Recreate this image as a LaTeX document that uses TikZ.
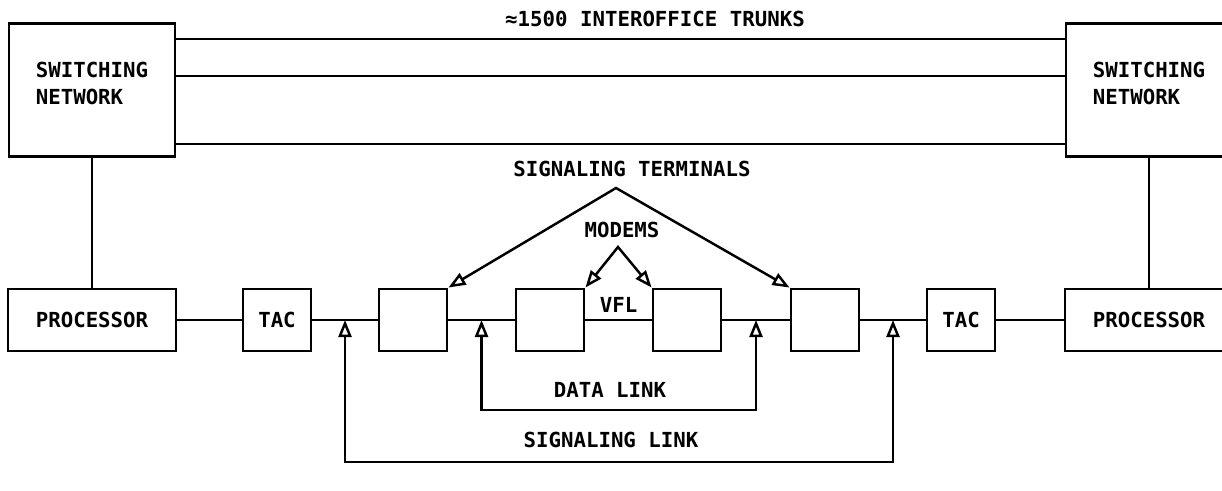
\documentclass[tikz,border=0pt]{standalone}
\usepackage{fontspec}
\setmonofont{DejaVu Sans Mono}
\usetikzlibrary{arrows.meta, positioning, calc}

\begin{document}
\begin{tikzpicture}[
    x=0.02cm, y=-0.02cm,
    font=\ttfamily\bfseries\fontsize{11.8}{15.4}\selectfont,
    network/.style={draw, line width=1.4pt, minimum width=3.32cm, minimum height=2.66cm, inner sep=0pt, align=left},
    unit/.style={draw, line width=1.4pt, minimum width=1.37cm, minimum height=1.25cm, inner sep=0pt},
    wire/.style={line width=1.4pt},
    link/.style={line width=1.4pt, {Triangle[open, length=0.34cm, width=0.26cm]}-{Triangle[open, length=0.34cm, width=0.26cm]}}
]
    \useasboundingbox (0,0) rectangle (1222,490);

    % switching networks and trunks
    \node[network] (snL) at (92,90) {SWITCHING\\NETWORK\\[-7.4pt]};
    \node[network] (snR) at (1149,90) {SWITCHING\\NETWORK\\[-7.4pt]};
    \foreach \ty in {39,76,144}
        \draw[wire] (snL.east |- 0,\ty) -- (snR.west |- 0,\ty);
    \node (trunks) at (655,19) {≈1500 INTEROFFICE TRUNKS};

    % processors, TACs and terminals
    \node[unit, minimum width=3.36cm] (procL) at (92,320) {PROCESSOR};
    \node[unit, minimum width=3.36cm] (procR) at (1149,320) {PROCESSOR};
    \node[unit] (tacL) at (277,320) {TAC};
    \node[unit] (st1) at (413,320) {};
    \node[unit] (m1) at (550,320) {};
    \node[unit] (m2) at (687,320) {};
    \node[unit] (st2) at (825,320) {};
    \node[unit] (tacR) at (961,320) {TAC};

    \draw[wire] (snL) -- (procL);
    \draw[wire] (snR) -- (procR);
    \draw[wire] (procL) -- (tacL) -- (st1) -- (m1) -- (m2) -- (st2) -- (tacR) -- (procR);
    \node[above=1pt] (vfl) at ($(m1.east)!0.5!(m2.west)$) {VFL};

    % pointers to the terminals and modems
    \node (stlabel) at (632,169) {SIGNALING TERMINALS};
    \coordinate (stapex) at (616,188);
    \draw[link] (st1.north east) -- (stapex) -- (st2.north west);
    \node (mdlabel) at (622,230) {MODEMS};
    \coordinate (mdapex) at (618,247);
    \draw[link] (m1.north east) -- (mdapex) -- (m2.north west);

    % data link and signaling link
    \coordinate (sl1) at ($(tacL.east)!0.5!(st1.west)$);
    \coordinate (dl1) at ($(st1.east)!0.5!(m1.west)$);
    \coordinate (dl2) at ($(m2.east)!0.5!(st2.west)$);
    \coordinate (sl2) at ($(st2.east)!0.5!(tacR.west)$);
    \coordinate (dlbot) at (618,410);
    \coordinate (slbot) at (618,462);
    \draw[link] (dl1) |- (dlbot) -| (dl2);
    \draw[link] (sl1) |- (slbot) -| (sl2);
    \node (dllabel) at (610,390) {DATA LINK};
    \node (sllabel) at (611,440) {SIGNALING LINK};
\end{tikzpicture}
\end{document}
